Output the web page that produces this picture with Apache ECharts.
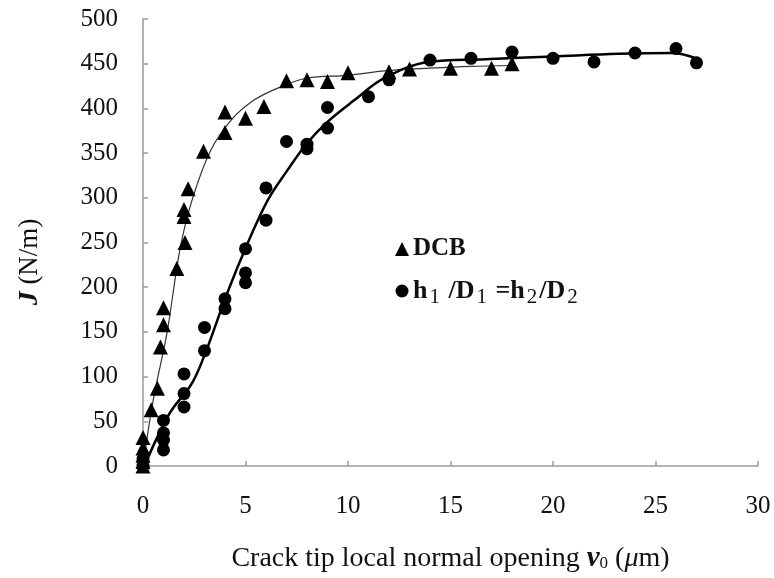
<!DOCTYPE html>
<html>
<head>
<meta charset="utf-8">
<script src="https://cdn.jsdelivr.net/npm/echarts@6/dist/echarts.min.js"></script>
<style>
  html, body { margin: 0; padding: 0; background: #fff; }
  #chart { width: 774px; height: 578px; }
</style>
</head>
<body>
<div id="chart"></div>
<script>
// Measured J values versus crack tip opening, with fitted curves
const dcbPoints = [
  [0, 0], [0, 5], [0, 12], [0, 20], [0, 32],
  [0.4, 63], [0.7, 87], [0.85, 133], [1, 158], [1, 177],
  [1.65, 221], [2.05, 250], [2, 279], [2, 287], [2.2, 310],
  [2.95, 352], [4, 373], [4, 396], [5, 389], [5.9, 402],
  [7, 431], [8, 432], [9, 430], [10, 440], [12, 441],
  [13, 444], [15, 445], [17, 445], [18, 450]
];
const ratioPoints = [
  [0, 0], [0, 8],
  [1, 18], [1, 29], [1, 37], [1, 51],
  [2, 66], [2, 81], [2, 103],
  [3, 129], [3, 155], [4, 176], [4, 187],
  [5, 205], [5, 216], [5, 243], [6, 275], [6, 311],
  [7, 363], [8, 355], [8, 360], [9, 378], [9, 401],
  [11, 413], [12, 432], [14, 454], [16, 456], [18, 463],
  [20, 456], [22, 452], [24, 462], [26, 467], [27, 451]
];
const dcbFit = [
  [0, 0], [0.5, 74], [1.17, 149], [1.8, 242], [2.4, 298], [3.3, 353],
  [4.3, 387], [5.4, 409], [6.6, 423], [8, 434], [10, 437], [11.8, 442],
  [14, 445], [16, 447], [18, 448]
];
const ratioFit = [
  [0.2, 7], [1.3, 59], [2.4, 93], [3.1, 130], [4.1, 193], [5.1, 249],
  [6.1, 298], [7.05, 331], [8, 361], [9, 385], [10.3, 409], [11.7, 433],
  [13.9, 452], [16.7, 455], [20, 458], [23.2, 461], [25.8, 462], [27, 456]
];
const xTicks = { min: 0, max: 30, step: 5 };
const yTicks = { min: 0, max: 500, step: 50 };

const serif = '"Liberation Serif", "DejaVu Serif", serif';
const ink = '#111';
const axisGray = '#9a9a9a';

const chart = echarts.init(document.getElementById('chart'), null, { renderer: 'canvas' });
chart.setOption({
  animation: false,
  backgroundColor: '#fff',
  grid: { left: 143, right: 16, top: 19, bottom: 112 },
  xAxis: {
    type: 'value',
    min: xTicks.min,
    max: xTicks.max,
    interval: xTicks.step,
    splitLine: { show: false },
    axisLine: { onZero: false, lineStyle: { color: axisGray, width: 1.5 } },
    axisTick: { inside: true, length: 5, lineStyle: { color: axisGray, width: 1.5 } },
    axisLabel: { margin: 28, color: ink, fontFamily: serif, fontSize: 25 },
    name: '{t|Crack tip local normal opening }{v|v}{s|0}{t| (}{i|μ}{t|m)}',
    nameLocation: 'middle',
    nameGap: 78,
    nameTextStyle: {
      rich: {
        t: { fontFamily: serif, fontSize: 28, color: ink },
        v: { fontFamily: serif, fontSize: 29, fontWeight: 'bold', fontStyle: 'italic', color: ink },
        s: { fontFamily: serif, fontSize: 17, color: ink, padding: [10, 0, 0, 0] },
        i: { fontFamily: serif, fontSize: 28, fontStyle: 'italic', color: ink }
      }
    }
  },
  yAxis: {
    type: 'value',
    min: yTicks.min,
    max: yTicks.max,
    interval: yTicks.step,
    splitLine: { show: false },
    axisLine: { lineStyle: { color: axisGray, width: 1.5 } },
    axisTick: { inside: true, length: 5, lineStyle: { color: axisGray, width: 1.5 } },
    axisLabel: { margin: 25, color: ink, fontFamily: serif, fontSize: 25 }
  },
  graphic: [
    {
      // rotated y-axis title
      type: 'text',
      x: 30,
      y: 262,
      rotation: Math.PI / 2,
      style: {
        text: '{i|J}{t| (N/m)}',
        align: 'center',
        verticalAlign: 'middle',
        rich: {
          i: { fontFamily: serif, fontSize: 28, fontStyle: 'italic', fontWeight: 'bold', fill: ink },
          t: { fontFamily: serif, fontSize: 27, fill: ink }
        }
      }
    },
    {
      // key for the two specimen groups
      type: 'group',
      children: [
        {
          type: 'polygon',
          shape: { points: [[395, 256], [402, 242], [409, 256]] },
          style: { fill: '#000' }
        },
        {
          type: 'text',
          x: 413,
          y: 249,
          style: {
            text: 'DCB',
            fontFamily: serif,
            fontSize: 25,
            fontWeight: 'bold',
            fill: ink,
            verticalAlign: 'middle'
          }
        },
        {
          type: 'circle',
          shape: { cx: 402, cy: 291, r: 6.5 },
          style: { fill: '#000' }
        },
        {
          type: 'text',
          x: 413,
          y: 291,
          style: {
            text: '{b|h}{s|1}{b| /D}{s|1}{b| =h}{s|2}{b|/D}{s|2}',
            verticalAlign: 'middle',
            rich: {
              b: { fontFamily: serif, fontSize: 26, fontWeight: 'bold', fill: ink },
              s: { fontFamily: serif, fontSize: 21, fill: ink, padding: [12, 2, 0, 2] }
            }
          }
        }
      ]
    }
  ],
  series: [
    {
      name: 'DCB fit',
      type: 'line',
      data: dcbFit,
      smooth: 0.35,
      showSymbol: false,
      lineStyle: { color: '#333', width: 1.2 },
      z: 2
    },
    {
      name: 'ratio fit',
      type: 'line',
      data: ratioFit,
      smooth: 0.35,
      showSymbol: false,
      lineStyle: { color: '#000', width: 2.5 },
      z: 2
    },
    {
      name: 'DCB',
      type: 'scatter',
      data: dcbPoints,
      symbol: 'triangle',
      symbolSize: 15,
      itemStyle: { color: '#000', opacity: 1 },
      z: 3
    },
    {
      name: 'ratio',
      type: 'scatter',
      data: ratioPoints,
      symbol: 'circle',
      symbolSize: 13,
      itemStyle: { color: '#000', opacity: 1 },
      z: 3
    }
  ]
});
</script>
</body>
</html>
